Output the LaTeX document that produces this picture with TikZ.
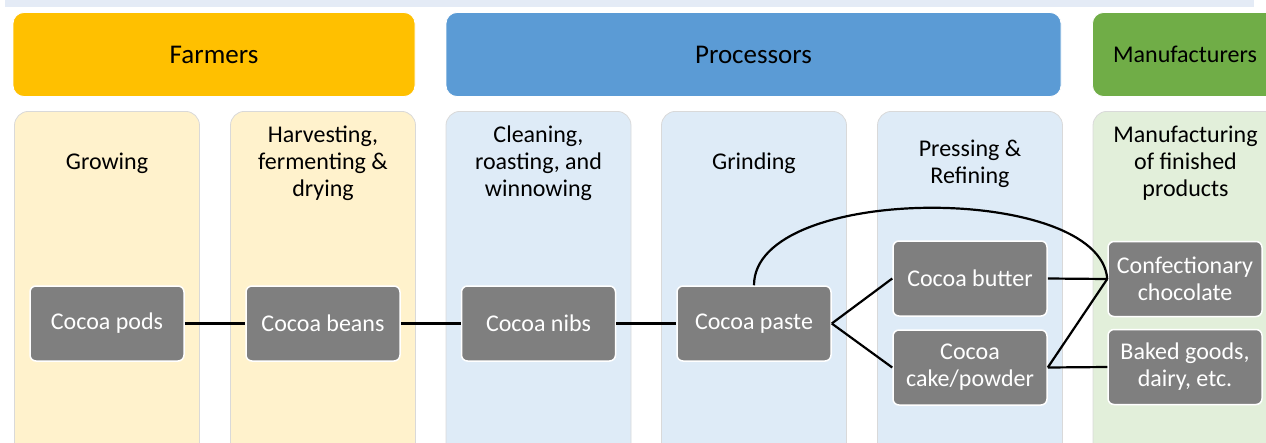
\documentclass[tikz,border=0pt]{standalone}
\usepackage{fontspec}
\setmainfont{Carlito}
\usetikzlibrary{positioning}
\definecolor{farmgold}{HTML}{FFC000}
\definecolor{procblue}{HTML}{5B9BD5}
\definecolor{manugreen}{HTML}{70AD47}
\definecolor{farmlight}{HTML}{FFF2CC}
\definecolor{proclight}{HTML}{DEEBF7}
\definecolor{manulight}{HTML}{E2EFDA}
\definecolor{stagegray}{HTML}{7F7F7F}
\definecolor{topstrip}{HTML}{E4EBF6}

\begin{document}
\begin{tikzpicture}[x=1pt, y=-1pt, inner sep=0pt,
  header/.style={rectangle, rounded corners=11pt, draw=white, line width=0.8pt, minimum height=84pt, font=\fontsize{27}{30}\selectfont},
  column/.style={rectangle, rounded corners=14pt, draw=black!15, line width=0.8pt, minimum width=185pt, minimum height=360pt, anchor=north},
  title/.style={align=center, font=\fontsize{24}{27}\selectfont},
  stage/.style={rectangle, rounded corners=6pt, fill=stagegray, draw=white, line width=1.5pt, minimum width=154pt, minimum height=75pt, text=white, align=center, font=\fontsize{24}{27}\selectfont},
  link/.style={draw=black, line width=2.2pt}]
			\useasboundingbox (0,0) rectangle (1266,442);
			\clip (0,0) rectangle (1266,442);
			\fill[topstrip] (5,0) rectangle (1254,7);

			% headers
			\node[header, fill=farmgold, minimum width=402pt](farmers) at (214,54.5) {Farmers};
			\node[header, fill=procblue, minimum width=615pt](processors) at (753.5,54.5) {Processors};
			\node[header, fill=manugreen, minimum width=185pt, font=\fontsize{24}{27}\selectfont](manufacturers) at (1185,54.5) {Manufacturers};

			% columns
			\node[column, fill=farmlight](colA) at (107,111) {};
			\node[column, fill=farmlight](colB) at (323,111) {};
			\node[column, fill=proclight](colC) at (538.5,111) {};
			\node[column, fill=proclight](colD) at (754,111) {};
			\node[column, fill=proclight](colE) at (970,111) {};
			\node[column, fill=manulight](colF) at (1185.5,111) {};

			\node[title](growing) at (107,163) {Growing};
			\node[title](harvesting) at (323,163.5) {Harvesting,\\fermenting \&\\drying};
			\node[title](cleaning) at (538.5,163.5) {Cleaning,\\roasting, and\\winnowing};
			\node[title](grinding) at (754,163) {Grinding};
			\node[title](pressing) at (970,164) {Pressing \&\\Refining};
			\node[title](manufacturing) at (1185.5,163.5) {Manufacturing\\of finished\\products};

			% stages
			\node[stage](pods) at (107,323.5) {Cocoa pods};
			\node[stage](beans) at (323,323.5) {Cocoa beans};
			\node[stage](nibs) at (538.5,323.5) {Cocoa nibs};
			\node[stage](paste) at (754,323.5) {Cocoa paste};
			\node[stage](butter) at (970,278.5) {Cocoa butter};
			\node[stage](cake) at (970,367.5) {Cocoa\\cake/powder};
			\node[stage](confection) at (1185,279) {Confectionary\\chocolate};
			\node[stage](baked) at (1185,367) {Baked goods,\\dairy, etc.};

			\draw[link](pods) -- (beans);
			\draw[link](beans) -- (nibs);
			\draw[link](nibs) -- (paste);
			\draw[link](paste.east) -- (butter.west);
			\draw[link](paste.east) -- (cake.west);
			\draw[link](butter.east) -- (confection.west);
			\draw[link](cake.east) -- (confection.west);
			\draw[link](cake.east) -- (baked.west);
			\draw[link](paste.north) .. controls (754,183) and (1100,183) .. (confection.west);
		\end{tikzpicture}
\end{document}
